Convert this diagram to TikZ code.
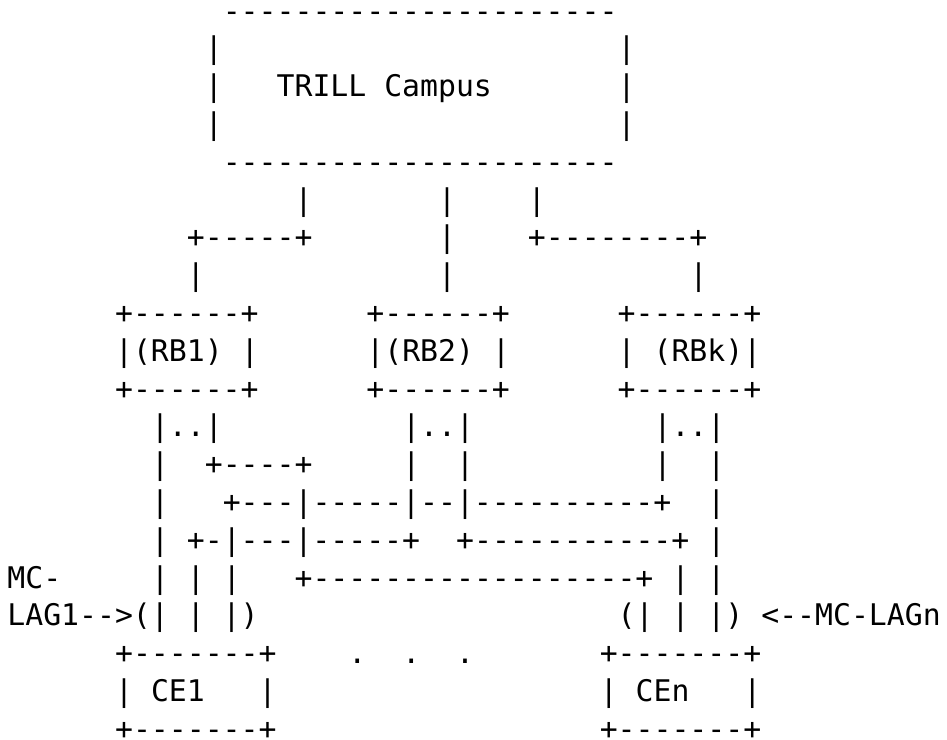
\documentclass[tikz,border=0pt]{standalone}
\usepackage{fontspec}
\setmonofont{DejaVu Sans Mono}
\usepackage{tikz}

\begin{document}
\begin{tikzpicture}[x=17.95pt, y=-37.8pt,
    ascii/.style={anchor=base west, inner sep=0pt, outer sep=0pt, font=\ttfamily\fontsize{29.8pt}{37.8pt}\selectfont}]

    \useasboundingbox (-7.4pt,21.1pt) rectangle (939.6pt,-717.9pt);

    \node[ascii] at (12,0) (camptop) {----------------------};
    \node[ascii] at (11,1) (campla) {|};
    \node[ascii] at (34,1) (campra) {|};
    \node[ascii] at (11,2) (camplb) {|};
    \node[ascii] at (15,2) (campus) {TRILL Campus};
    \node[ascii] at (34,2) (camprb) {|};
    \node[ascii] at (11,3) (camplc) {|};
    \node[ascii] at (34,3) (camprc) {|};
    \node[ascii] at (12,4) (campbot) {----------------------};

    \node[ascii] at (16,5) (upa) {|};
    \node[ascii] at (24,5) (upb) {|};
    \node[ascii] at (29,5) (upk) {|};
    \node[ascii] at (10,6) (benda) {+-----+};
    \node[ascii] at (24,6) (midb) {|};
    \node[ascii] at (29,6) (bendk) {+--------+};
    \node[ascii] at (10,7) (downa) {|};
    \node[ascii] at (24,7) (downb) {|};
    \node[ascii] at (38,7) (downk) {|};

    \node[ascii] at (6,8) (rbatop) {+------+};
    \node[ascii] at (20,8) (rbbtop) {+------+};
    \node[ascii] at (34,8) (rbktop) {+------+};
    \node[ascii] at (6,9) (rbal) {|};
    \node[ascii] at (7,9) (rb1) {(RB1)};
    \node[ascii] at (13,9) (rbar) {|};
    \node[ascii] at (20,9) (rbbl) {|};
    \node[ascii] at (21,9) (rb2) {(RB2)};
    \node[ascii] at (27,9) (rbbr) {|};
    \node[ascii] at (34,9) (rbkl) {|};
    \node[ascii] at (36,9) (rbk) {(RBk)};
    \node[ascii] at (41,9) (rbkr) {|};
    \node[ascii] at (6,10) (rbabot) {+------+};
    \node[ascii] at (20,10) (rbbbot) {+------+};
    \node[ascii] at (34,10) (rbkbot) {+------+};

    \node[ascii] at (8,11) (porta) {|..|};
    \node[ascii] at (22,11) (portb) {|..|};
    \node[ascii] at (36,11) (portk) {|..|};

    \node[ascii] at (8,12) (linkaa) {|};
    \node[ascii] at (11,12) (linkab) {+----+};
    \node[ascii] at (22,12) (linkba) {|};
    \node[ascii] at (25,12) (linkbb) {|};
    \node[ascii] at (36,12) (linkka) {|};
    \node[ascii] at (39,12) (linkkb) {|};

    \node[ascii] at (8,13) (crossaa) {|};
    \node[ascii] at (12,13) (crossab) {+---|-----|--|----------+};
    \node[ascii] at (39,13) (crosskb) {|};

    \node[ascii] at (8,14) (crossba) {|};
    \node[ascii] at (10,14) (crossbb) {+-|---|-----+};
    \node[ascii] at (25,14) (crossbc) {+-----------+};
    \node[ascii] at (39,14) (crossbk) {|};

    \node[ascii] at (0,15) (mca) {MC-};
    \node[ascii] at (8,15) (legsa) {| | |};
    \node[ascii] at (16,15) (crossc) {+------------------+};
    \node[ascii] at (37,15) (legsn) {| |};

    \node[ascii] at (0,16) (lag1) {LAG1-->(| | |)};
    \node[ascii] at (34,16) (lagnbundle) {(| | |)};
    \node[ascii] at (42,16) (lagn) {<--MC-LAGn};

    \node[ascii] at (6,17) (ce1top) {+-------+};
    \node[ascii] at (19,17) (dota) {.};
    \node[ascii] at (22,17) (dotb) {.};
    \node[ascii] at (25,17) (dotc) {.};
    \node[ascii] at (33,17) (centop) {+-------+};
    \node[ascii] at (6,18) (ce1l) {|};
    \node[ascii] at (8,18) (ce1) {CE1};
    \node[ascii] at (14,18) (ce1r) {|};
    \node[ascii] at (33,18) (cenl) {|};
    \node[ascii] at (35,18) (cen) {CEn};
    \node[ascii] at (41,18) (cenr) {|};
    \node[ascii] at (6,19) (ce1bot) {+-------+};
    \node[ascii] at (33,19) (cenbot) {+-------+};
\end{tikzpicture}
\end{document}
